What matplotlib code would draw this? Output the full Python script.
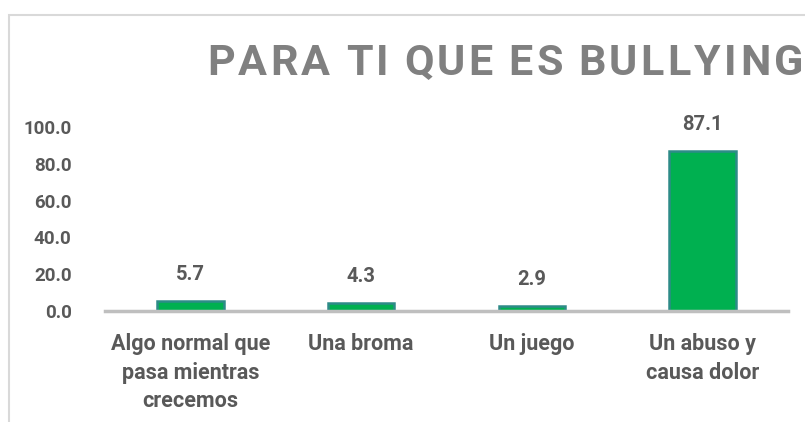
import matplotlib
matplotlib.use("Agg")
import matplotlib.pyplot as plt
from matplotlib.patches import Rectangle

categories = ["Algo normal que\npasa mientras\ncrecemos", "Una broma", "Un juego", "Un abuso y\ncausa dolor"]
values = [5.7, 4.3, 2.9, 87.1]
yticks = [0, 20, 40, 60, 80, 100]
title = "PARA TI QUE ES BULLYING"

FONT = "Roboto"
TXT = "#595959"

fig = plt.figure(figsize=(8.05, 4.22), dpi=100)
fig.patch.set_facecolor("white")

# chart frame (extends beyond the image on right and bottom)
fig.patches.append(Rectangle((9/805, -0.1), 1.2, (422-15)/422 + 0.1,
                             transform=fig.transFigure, fill=False,
                             edgecolor="#d9d9d9", linewidth=1.5))

ax = fig.add_axes([105/805, 1 - 311/422, (788-105)/805, (311-127)/422])
x = range(len(categories))
ax.bar(x, values, width=0.39, color="#00B050", edgecolor="#2E8B88", linewidth=1.8, zorder=2)
ax.set_xlim(-0.5, len(categories) - 0.5)
ax.set_ylim(0, 100)
for s in ["top", "right", "left"]:
    ax.spines[s].set_visible(False)
ax.spines["bottom"].set_color("#bfbfbf")
ax.spines["bottom"].set_linewidth(2.5)
ax.set_yticks(yticks)
ax.set_yticklabels([f"{v:.1f}" for v in yticks], fontsize=13.5, fontweight="bold",
                   color=TXT, family=FONT)
ax.tick_params(axis="y", length=0, pad=24)
ax.set_xticks(list(x))
ax.set_xticklabels(categories, fontsize=15.5, fontweight="bold", color=TXT,
                   family=FONT, linespacing=1.38)
ax.tick_params(axis="x", length=0, pad=16)
for xi, v in zip(x, values):
    ax.annotate(f"{v:.1f}", (xi, v), xytext=(0, 12), textcoords="offset points",
                ha="center", va="bottom", fontsize=14.5, fontweight="bold",
                color=TXT, family=FONT)

# letter-spaced title, spanning x=207..803 px
fig.canvas.draw()
renderer = fig.canvas.get_renderer()
ybase = 1 - 75/422
chars = []
widths = []
for ch in title:
    t = fig.text(0, ybase, ch, fontsize=31, fontweight="bold", color="#808080",
                 family=FONT, ha="left", va="baseline")
    w = 9 if ch == " " else t.get_window_extent(renderer).width
    chars.append(t)
    widths.append(w)
tracking = (803 - 207 - sum(widths)) / (len(title) - 1)
xpos = 207
for t, w in zip(chars, widths):
    t.set_x(xpos / 805)
    xpos += w + tracking

fig.savefig("out.png", dpi=100)
